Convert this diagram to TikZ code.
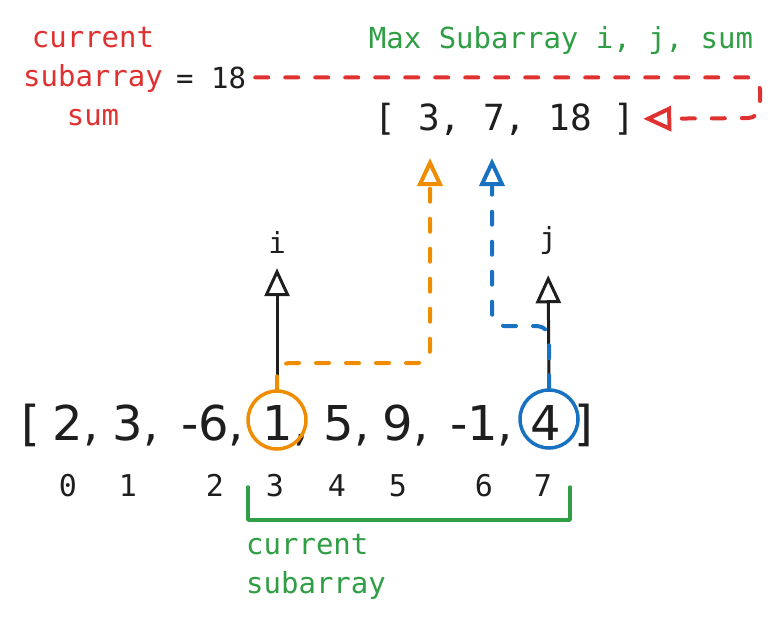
\documentclass[tikz,border=0pt]{standalone}
\usepackage{fontspec}
\usepackage{tikz}
\usetikzlibrary{arrows.meta}
\newfontfamily\handfont{DejaVu Sans Mono}
\newfontfamily\arrfont{DejaVu Sans}
\definecolor{inkblack}{HTML}{1E1E1E}
\definecolor{curred}{HTML}{E03131}
\definecolor{subgreen}{HTML}{2F9E44}
\definecolor{iorange}{HTML}{F08C00}
\definecolor{jblue}{HTML}{1971C2}

\begin{document}
\begin{tikzpicture}[x=1pt, y=-1pt, line cap=round, line join=round,
    hand/.style={font=\handfont\fontsize{29}{39}\selectfont, text=inkblack, inner sep=0pt},
    elem/.style={font=\arrfont\fontsize{48}{48}\selectfont, text=inkblack, inner sep=0pt, anchor=base},
    idx/.style={font=\handfont\fontsize{30}{30}\selectfont, text=inkblack, inner sep=0pt, anchor=base},
    pick/.style={circle, draw=#1, line width=3.5pt, minimum size=58pt, inner sep=0pt},
    ptr/.style={draw=inkblack, line width=3pt, -{Triangle[open, length=28pt, width=25pt]}},
    link/.style={draw=#1, line width=4pt, dash pattern=on 13pt off 17pt, rounded corners=12pt,
      -{Triangle[open, length=28pt, width=25pt]}}]
  \useasboundingbox (0,0) rectangle (781,625);

  % top labels
  \node[hand, text=curred, align=center, anchor=north] (cslab) at (93,27) {current\\subarray\\sum};
  \node[hand, anchor=base west] (csum) at (176,88) {= 18};
  \node[hand, text=subgreen, anchor=base] (maxlab) at (561,48) {Max Subarray i, j, sum};
  \node[hand, font=\handfont\fontsize{36}{36}\selectfont, anchor=base] (res) at (505,130) {[ 3, 7, 18 ]};

  % the array
  \node[elem] (lb) at (31,440) {[};
  \foreach \v/\x [count=\k from 0] in {2/68, 3/128, -6/205, 1/278, 5/339, 9/398, -1/474}
    \node[elem] (a\k) at (\x,440) {\v\rlap{,}};
  \node[elem] (a7) at (546,440) {4};
  \node[elem] (rb) at (584,440) {]};
  \node[pick=iorange] (ci) at (277,420) {};
  \node[pick=jblue] (cj) at (549,419) {};

  % indices
  \foreach \k/\x in {0/68, 1/128, 2/215, 3/275, 4/337, 5/398, 6/484, 7/543}
    \node[idx] (n\k) at (\x,496) {\k};

  % pointers
  \node[hand] (ilab) at (277,253) [anchor=base] {i};
  \node[hand] (jlab) at (548,248) [anchor=base] {j};
  \draw[ptr, shorten >=15pt] (ci.north) -- (ilab.south);
  \draw[ptr, shorten >=21pt] (cj.north) -- (jlab.south);

  \coordinate (si) at (430,158);
  \coordinate (sj) at (492,158);
  \coordinate (bendi) at (430,363);
  \coordinate (bendj) at (492,326);
  \coordinate (rloop) at (760,118);
  \draw[link=iorange] (ci.north) |- (bendi) -- (si);
  \draw[link=jblue] (cj.north) |- (bendj) -- (sj);
  \draw[link=curred, shorten <=9pt, shorten >=8pt] (csum.east) -| (rloop) -- (res.east);

  % current subarray
  \draw[subgreen, line width=3.5pt] (248,487) -- (248,520) -- (570,520) -- (570,487);
  \node[hand, text=subgreen, align=left, anchor=north west] (curlab) at (246,534) {current\\subarray};
\end{tikzpicture}
\end{document}
